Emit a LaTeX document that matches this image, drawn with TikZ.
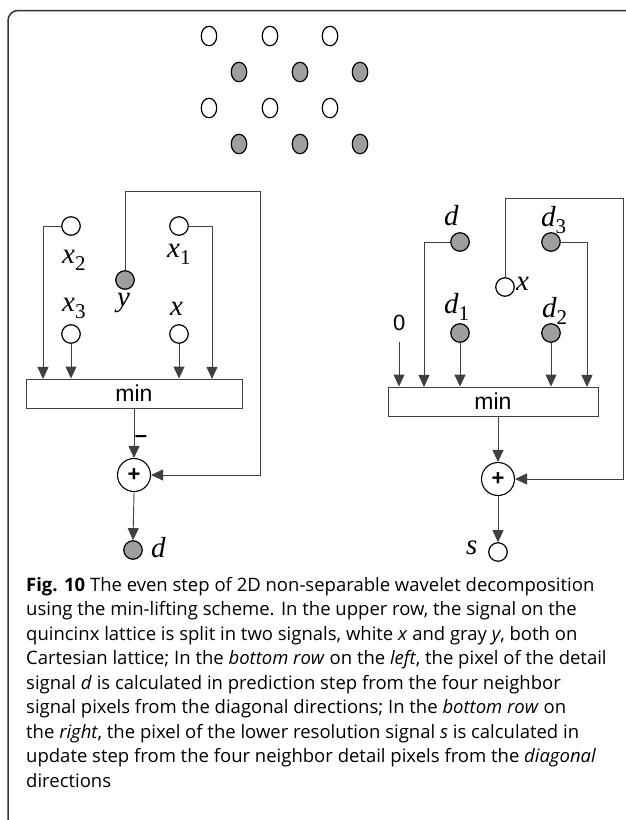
\documentclass[tikz,border=0pt]{standalone}
\usepackage{fontspec}
\setmainfont{Open Sans}
\newfontfamily\serifit{Liberation Serif}
\newfontfamily\sanslbl{Liberation Sans}
\usetikzlibrary{arrows.meta,shapes.geometric}
\newcommand\subl[2]{#1\raisebox{-7pt}{\upshape\fontsize{21}{21}\selectfont #2}}
\tikzset{
  wnode/.style={circle, draw=black, line width=1.2pt, fill=white, minimum size=18.5pt, inner sep=0pt},
  gnode/.style={wnode, fill=black!38},
  wlat/.style={ellipse, draw=black, line width=1.2pt, fill=white, minimum width=15.5pt, minimum height=19.5pt, inner sep=0pt},
  glat/.style={wlat, fill=black!38},
  conn/.style={draw=black!75, line width=0.9pt},
  arr/.style={conn, -{Triangle[length=12pt,width=11pt]}},
  minbox/.style={draw=black!75, line width=0.9pt, inner sep=0pt, minimum height=29pt, font=\sanslbl\fontsize{23}{23}\selectfont},
  plusnode/.style={circle, draw=black, line width=1.1pt, minimum size=33pt, inner sep=0pt, font=\sanslbl\bfseries\fontsize{22}{22}\selectfont},
  lbl/.style={inner sep=0pt, anchor=base west, font=\serifit\itshape\fontsize{29}{29}\selectfont},
  slbl/.style={inner sep=0pt, anchor=base west, font=\sanslbl\fontsize{22}{22}\selectfont},
}
\begin{document}
\begin{tikzpicture}[x=1pt,y=-1pt]
\useasboundingbox (0,0) rectangle (625,820);
% frame
\draw[rounded corners=10pt, line width=1.5pt, draw=black!80] (8,10.5) rectangle (660,829);
% top lattice
\foreach \i/\x in {1/209,2/270,3/330}{
  \node[wlat] (ta\i) at (\x,36) {};
  \node[wlat] (tc\i) at (\x,108) {};
}
\foreach \i/\x in {1/239,2/300,3/360}{
  \node[glat] (tb\i) at (\x,72) {};
  \node[glat] (td\i) at (\x,144) {};
}
% ---------------- left diagram
\node[wnode] (Lx2) at (71,226) {};
\node[wnode] (Lx1) at (179,226) {};
\node[gnode] (Ly) at (125,280) {};
\node[wnode] (Lx3) at (71,334) {};
\node[wnode] (Lx) at (179,334) {};
\node[minbox, minimum width=216pt] (Lmin) at (134,393.5) {min};
\node[plusnode] (Lplus) at (134,475) {+};
\node[gnode] (Ld) at (133,550) {};
\node[lbl] (Llx2) at (62,263) {\subl{x}{2}};
\node[lbl] (Llx1) at (167,257) {\subl{x}{1}};
\node[lbl] (Lly) at (117,306) {y};
\node[lbl] (Llx3) at (62,311) {\subl{x}{3}};
\node[lbl] (Llx) at (170,315) {x};
\node[lbl] (Lld) at (151,557) {d};
\node[inner sep=0pt, font=\sanslbl\bfseries\fontsize{22}{22}\selectfont] (Lminus) at (141,439) {\textendash};
\draw[arr] (Lx2.west) -| (43,378.9);
\draw[arr] (Lx3) -- (Lx3 |- Lmin.north);
\draw[arr] (Lx) -- (Lx |- Lmin.north);
\draw[arr] (Lx1.east) -| (212,378.9);
\draw[arr] (Lmin.south) -- (Lplus.north);
\draw[arr] (Ly.north) |- (260,191) |- (Lplus.east);
\draw[arr] (Lplus.south) -- (Ld.north);
% ---------------- right diagram
\node[gnode] (Rd) at (460,242) {};
\node[gnode] (Rd3) at (551,242) {};
\node[wnode] (Rx) at (505,287) {};
\node[gnode] (Rd1) at (460,333) {};
\node[gnode] (Rd2) at (551,333) {};
\node[minbox, minimum width=210pt] (Rmin) at (493,401.5) {min};
\node[plusnode] (Rplus) at (498,479) {+};
\node[wnode] (Rs) at (498,552) {};
\node[lbl] (Rld) at (444,225) {d};
\node[lbl] (Rld3) at (541,226) {\subl{d}{3}};
\node[lbl] (Rlx) at (516,290) {x};
\node[lbl] (Rld1) at (444,313) {\subl{d}{1}};
\node[lbl] (Rld2) at (542,317) {\subl{d}{2}};
\node[slbl] (Rl0) at (393,330) {0};
\node[lbl] (Rls) at (466,554) {s};
\coordinate (R0) at (399,342);
\draw[arr] (R0) -- (R0 |- Rmin.north);
\draw[arr] (Rd.west) -| (424,386.9);
\draw[arr] (Rd1) -- (Rd1 |- Rmin.north);
\draw[arr] (Rd2) -- (Rd2 |- Rmin.north);
\draw[arr] (Rd3.east) -| (587,386.9);
\draw[arr] (Rmin.south -| Rplus.north) -- (Rplus.north);
\draw[arr] (Rx.north) |- (623,198) |- (Rplus.east);
\draw[arr] (Rplus.south) -- (Rs.north);
% caption
\node[inner sep=0pt, anchor=base west] (cap) at (26,591) {\parbox[t]{640pt}{\fontsize{18.5}{24.5}\selectfont\raggedright
\textbf{Fig. 10} The even step of 2D non-separable wavelet decomposition\\
using the min-lifting scheme. In the upper row, the signal on the\\
quincinx lattice is split in two signals, white \textit{x} and gray \textit{y}, both on\\
Cartesian lattice; In the \textit{bottom row} on the \textit{left}, the pixel of the detail\\
signal \textit{d} is calculated in prediction step from the four neighbor\\
signal pixels from the diagonal directions; In the \textit{bottom row} on\\
the \textit{right}, the pixel of the lower resolution signal \textit{s} is calculated in\\
update step from the four neighbor detail pixels from the \textit{diagonal}\\
directions}};
\end{tikzpicture}
\end{document}
